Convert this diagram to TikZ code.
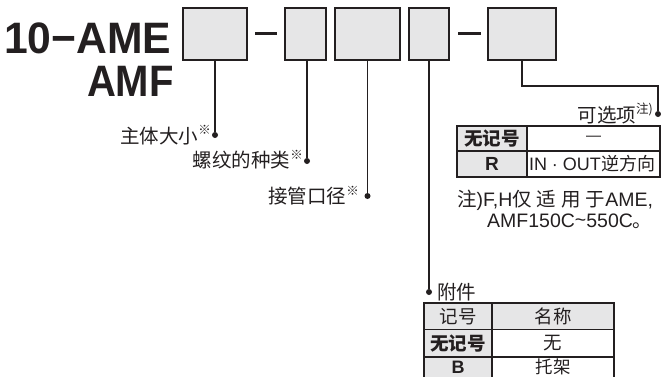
\documentclass[tikz,border=0pt]{standalone}
\usepackage{fontspec}
\setmainfont{Liberation Sans}
\newfontfamily\cjk{Noto Sans CJK SC}
\definecolor{ink}{HTML}{231F20}
\definecolor{boxfill}{HTML}{E6E6E7}
\newcommand\supm[1]{\raisebox{0.42em}{\fontsize{12.5}{12.5}\selectfont #1}}
\begin{document}
\begin{tikzpicture}[x=1pt,y=-1pt,
  codebox/.style={draw=ink, line width=1.8pt, fill=boxfill, inner sep=0pt, minimum height=52.2pt},
  conn/.style={draw=ink, line width=1.8pt},
  dotc/.style={circle, fill=ink, inner sep=0pt, minimum size=6pt},
  lbl/.style={inner sep=0pt, font=\fontsize{19.5}{20}\selectfont\cjk, text=ink},
  title/.style={inner sep=0pt, font=\fontsize{44}{44}\selectfont\bfseries, text=ink},
  cell/.style={inner sep=0pt, font=\fontsize{18.5}{19}\selectfont\cjk, text=ink},
  thinr/.style={draw=ink, line width=1.1pt},
  thickr/.style={draw=ink, line width=2.4pt},
  note/.style={inner sep=0pt, font=\fontsize{19.5}{20}\selectfont, text=ink}]
\clip (0,0) rectangle (661,376);
% title
\node[title, anchor=base west] (tA) at (4,53) {\scalebox{0.97}[1]{10−AME}};
\node[title, anchor=base east] (tB) at (174,96) {\scalebox{0.91}[1]{AMF}};
% code boxes
\node[codebox, minimum width=64.2pt] (b1) at (215,34) {};
\node[codebox, minimum width=41.2pt] (b2) at (305.5,34) {};
\node[codebox, minimum width=65.2pt] (b3) at (367.5,34) {};
\node[codebox, minimum width=40.2pt] (b4) at (429,34) {};
\node[codebox, minimum width=68.2pt] (b5) at (522,34) {};
% dashes
\fill[ink] (255,31.8) rectangle (277,35.4);
\fill[ink] (458,31.8) rectangle (481,35.4);
% dots
\node[dotc] (d1) at (215,135) {};
\node[dotc] (d2) at (307,161) {};
\node[dotc] (d3) at (367.5,196) {};
\node[dotc] (d4) at (429,292) {};
\node[dotc] (d5) at (658,114) {};
\coordinate (k5) at (658,86);
% connectors
\draw[conn] (d1 |- b1.south) -- (d1);
\draw[conn] (d2 |- b2.south) -- (d2);
\draw[conn] (d3 |- b3.south) -- (d3);
\draw[conn] (d4 |- b4.south) -- (d4);
\draw[conn] (b5.south) |- (k5) -- (d5);
% labels
\node[lbl, anchor=base east] (l1) at (211,143) {主体大小\supm{※}};
\node[lbl, anchor=base east] (l2) at (303,167.5) {螺纹的种类\supm{※}};
\node[lbl, anchor=base east] (l3) at (359,203.5) {接管口径\supm{※}};
\node[lbl, anchor=base west] (l4) at (437,299) {附件};
\node[lbl, anchor=base east] (l5) at (653,122) {可选项\supm{注)}};
% table 1 (option)
\fill[boxfill] (457,126) rectangle (527,177);
\draw[thinr] (457,126) -- (457,177) -- (660,177) -- (660,126);
\draw[thinr] (527,126) -- (527,177);
\draw[thinr] (457,151) -- (660,151);
\draw[thickr] (456,126) -- (661,126);
\node[cell, font=\fontsize{18.5}{19}\selectfont\cjk\bfseries] (o11) at (492,138.5) {无记号};
\node[cell, font=\fontsize{15}{15}\selectfont] (o12) at (593.5,138.5) {—};
\node[cell, font=\fontsize{19}{19}\selectfont\bfseries] (o21) at (492,164) {R};
\node[cell, font=\fontsize{18}{19}\selectfont] (o22) at (592,164) {IN · OUT{\cjk 逆方向}};
% note
\node[note, anchor=base west] (n1) at (457,206) {{\cjk 注})F,H{\cjk 仅\hspace{5pt}适\hspace{5pt}用\hspace{5pt}于}AME,};
\node[note, anchor=base west] (n2) at (487,227.5) {AMF150C\raisebox{1pt}{\char"007E}550C{\cjk 。}};
% table 2 (accessory)
\fill[boxfill] (424,303) rectangle (614,329.5);
\fill[boxfill] (424,303) rectangle (492,380);
\draw[thinr] (424,303) -- (424,380);
\draw[thinr] (492,303) -- (492,380);
\draw[thinr] (614,303) -- (614,380);
\draw[thinr] (424,329.5) -- (614,329.5);
\draw[thinr] (424,357) -- (614,357);
\draw[thickr] (423,303) -- (615,303);
\node[cell] (a11) at (458,316.5) {记号};
\node[cell] (a12) at (553,316.5) {名称};
\node[cell, font=\fontsize{18.5}{19}\selectfont\cjk\bfseries] (a21) at (458,343.5) {无记号};
\node[cell] (a22) at (553,343.5) {无};
\node[cell, font=\fontsize{18}{19}\selectfont\bfseries] (a31) at (458,367) {B};
\node[cell, font=\fontsize{17.5}{18}\selectfont\cjk] (a32) at (553,367) {托架};
\end{tikzpicture}
\end{document}
